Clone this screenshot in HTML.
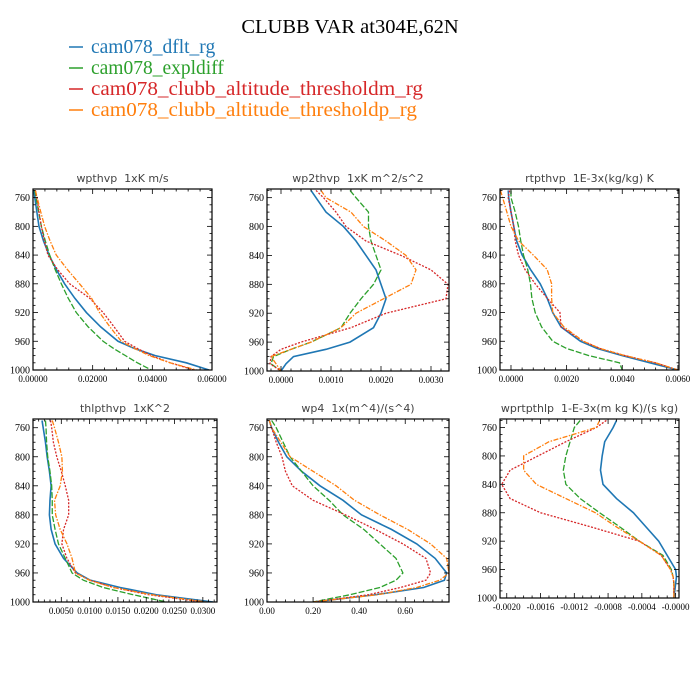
<!DOCTYPE html>
<html><head><meta charset="utf-8"><style>
body{margin:0;background:#fff;}
svg{display:block;}
.pt{font-family:"DejaVu Sans","Liberation Sans",sans-serif;font-size:11px;fill:#444;white-space:pre;}
.tl{font-family:"Liberation Serif",serif;font-size:10px;fill:#000;}
.tx{font-family:"Liberation Serif",serif;font-size:9px;fill:#000;}
.lg{font-family:"Liberation Serif",serif;font-size:19.5px;}
</style></head><body>
<svg id="chart" width="700" height="700" viewBox="0 0 700 700" xmlns="http://www.w3.org/2000/svg">
<rect width="700" height="700" fill="#fff"/>
<text x="350" y="33" text-anchor="middle" font-family="Liberation Serif, serif" font-size="20.5">CLUBB VAR at304E,62N</text>
<g>
<g><line x1="69" y1="47" x2="83" y2="47" stroke="#1f77b4" stroke-width="1.5"/><text class="lg" x="91" y="53" fill="#1f77b4">cam078_dflt_rg</text></g>
<g><line x1="69" y1="68" x2="83" y2="68" stroke="#2ca02c" stroke-width="1.5"/><text class="lg" x="91" y="74" fill="#2ca02c">cam078_expldiff</text></g>
<g><line x1="69" y1="89" x2="83" y2="89" stroke="#d62728" stroke-width="1.5"/><text class="lg" x="91" y="95" fill="#d62728" textLength="332" lengthAdjust="spacingAndGlyphs">cam078_clubb_altitude_thresholdm_rg</text></g>
<g><line x1="69" y1="110" x2="83" y2="110" stroke="#ff7f0e" stroke-width="1.5"/><text class="lg" x="91" y="116" fill="#ff7f0e" textLength="326" lengthAdjust="spacingAndGlyphs">cam078_clubb_altitude_thresholdp_rg</text></g>
</g>
</svg>
<script>
const levels=[750,760,780,800,820,840,860,880,900,920,940,960,970,980,990,1000];
const yTicks=[760,800,840,880,920,960,1000];
const seriesNames=["dflt","expldiff","thresholdm","thresholdp"];
// panel 1 wpthvp
const p1Blue=[0.0003,0.0006,0.0013,0.002,0.0035,0.0054,0.0078,0.0106,0.014,0.0179,0.0227,0.0285,0.034,0.041,0.0514,0.059];
const p1Green=[0.0006,0.001,0.0019,0.0028,0.0041,0.0056,0.0074,0.0095,0.0118,0.0145,0.0185,0.0235,0.027,0.031,0.035,0.0397];
const p1Red=[0.0008,0.0013,0.002,0.0028,0.0038,0.005,0.0082,0.0123,0.019,0.0235,0.0272,0.0307,0.035,0.0397,0.046,0.054];
const p1Orange=[0.0008,0.0014,0.0026,0.0039,0.0057,0.0078,0.0115,0.0156,0.0196,0.0223,0.0258,0.0296,0.034,0.039,0.046,0.0548];
const p1Ticks=[0,0.02,0.04,0.06];
const p1Labels=["0.00000","0.02000","0.04000","0.06000"];
// panel 2 wp2thvp
const p2Blue=[0.0006,0.0007,0.0009,0.00125,0.0015,0.0017,0.0019,0.002,0.0021,0.002,0.00185,0.00138,0.0009,0.00025,0.0001,0];
const p2Green=[0.00138,0.0015,0.00175,0.00175,0.0018,0.0019,0.002,0.00185,0.0016,0.00138,0.0012,0.0006,0.0002,-0.00015,-0.0002,0];
const p2Red=[0.0007,0.00085,0.0011,0.0013,0.0017,0.0024,0.003,0.00334,0.0033,0.0021,0.0014,0.0004,0.0,-0.0002,-0.00022,0];
const p2Orange=[0.0008,0.0009,0.0014,0.00165,0.0021,0.0025,0.0027,0.0026,0.00205,0.0015,0.0012,0.0006,0.0002,-0.0002,-0.0001,0];
const p2Ticks=[0,0.001,0.002,0.003];
const p2Labels=["0.0000","0.0010","0.0020","0.0030"];
// panel 3 rtpthvp
const p3Blue=[-0.0001,-0.00008,0,0.0001,0.0002,0.0004,0.0007,0.00105,0.0013,0.0015,0.0018,0.0025,0.0031,0.004,0.005,0.006];
const p3Green=[0,0,0.00015,0.00027,0.00035,0.00045,0.0006,0.0007,0.00075,0.00087,0.0011,0.0015,0.002,0.0028,0.0039,0.004];
const p3Red=[-0.00005,-0.0001,0,0.0001,0.00015,0.00027,0.0005,0.00087,0.0013,0.00176,0.0018,0.0026,0.0032,0.0041,0.0052,0.006];
const p3Orange=[-0.00038,-0.0003,-0.00015,0,0.00027,0.0008,0.0013,0.00146,0.00146,0.0015,0.0019,0.0026,0.0032,0.0041,0.0052,0.006];
const p3Ticks=[0,0.002,0.004,0.006];
const p3Labels=["0.0000","0.0020","0.0040","0.0060"];
// panel 4 thlpthvp
const p4Blue=[0.0016,0.0018,0.0022,0.0025,0.0029,0.0032,0.003,0.0029,0.0032,0.0039,0.0054,0.0078,0.0101,0.0154,0.0218,0.0318];
const p4Green=[0.0022,0.0023,0.0024,0.0026,0.003,0.0033,0.0034,0.0034,0.0039,0.0045,0.0057,0.0069,0.0089,0.0124,0.0177,0.0236];
const p4Red=[0.0031,0.0033,0.0036,0.0042,0.005,0.0057,0.0063,0.0063,0.0054,0.0051,0.006,0.0075,0.01,0.0142,0.0205,0.03];
const p4Orange=[0.0034,0.0038,0.0045,0.0051,0.0052,0.0048,0.0038,0.004,0.0048,0.006,0.0069,0.0075,0.01,0.0142,0.021,0.0306];
const p4Ticks=[0.005,0.01,0.015,0.02,0.025,0.03];
const p4Labels=["0.0050","0.0100","0.0150","0.0200","0.0250","0.0300"];
// panel 5 wp4
const p5Blue=[0.01,0.02,0.05,0.086,0.15,0.23,0.33,0.41,0.54,0.65,0.73,0.78,0.77,0.68,0.47,0.2];
const p5Green=[0.02,0.04,0.07,0.1,0.15,0.2,0.27,0.33,0.42,0.49,0.56,0.59,0.56,0.49,0.36,0.2];
const p5Red=[0.01,0.02,0.04,0.065,0.08,0.11,0.2,0.34,0.47,0.59,0.69,0.71,0.69,0.58,0.44,0.2];
const p5Orange=[0.01,0.02,0.06,0.1,0.2,0.3,0.38,0.49,0.61,0.71,0.78,0.79,0.75,0.65,0.48,0.2];
const p5Ticks=[0,0.2,0.4,0.6];
const p5Labels=["0.00","0.20","0.40","0.60"];
// panel 6 wprtpthlp
const p6Blue=[-0.0007,-0.00074,-0.00084,-0.00087,-0.00089,-0.00086,-0.0007,-0.0005,-0.00035,-0.0002,-0.0001,0,0.00001,0,-0.00001,-0.00002];
const p6Green=[-0.00113,-0.0012,-0.00125,-0.0013,-0.00133,-0.0013,-0.00113,-0.0009,-0.00066,-0.00043,-0.00015,-0.00005,-0.00003,-0.00002,-0.00002,-0.00002];
const p6Red=[-0.00082,-0.00094,-0.0013,-0.00163,-0.00196,-0.00206,-0.00196,-0.0016,-0.001,-0.00043,-0.00017,-0.00006,-0.00003,-0.00002,-0.00002,-0.00002];
const p6Orange=[-0.0009,-0.00094,-0.0015,-0.0018,-0.0018,-0.00165,-0.0013,-0.00095,-0.0007,-0.00043,-0.00017,-0.00006,-0.00003,-0.00002,-0.00002,-0.00002];
const p6Ticks=[-0.002,-0.0016,-0.0012,-0.0008,-0.0004,0];
const p6Labels=["-0.0020","-0.0016","-0.0012","-0.0008","-0.0004","-0.0000"];

const NS="http://www.w3.org/2000/svg";
const svg=document.getElementById('chart');
function mk(tag,attrs,parent){const e=document.createElementNS(NS,tag);for(const k in attrs)e.setAttribute(k,attrs[k]);parent.appendChild(e);return e;}
const styles=[{c:"#1f77b4",d:"",w:1.6},{c:"#2ca02c",d:"6,2",w:1.3},{c:"#d62728",d:"2,1.5",w:1.3},{c:"#ff7f0e",d:"5,1.5,1.5,1.5",w:1.3}];
function panel(name,title,box,xmin,xmax,series,ticks,labels,minorStep){
  const g=mk('g',{},svg);
  
  
  const [L,T,R,B]=box;
  const ymin=748,ymax=1000;
  const sx=v=>L+(v-xmin)/(xmax-xmin)*(R-L);
  const sy=p=>T+(p-ymin)/(ymax-ymin)*(B-T);
  const t=mk('text',{x:(L+R)/2,y:T-7,'text-anchor':'middle',class:'pt'},g);
  t.textContent=title;
  
  
  const clip=mk('clipPath',{id:'clip-'+name},g);
  mk('rect',{x:L,y:T,width:R-L,height:B-T},clip);
  series.forEach((vals,i)=>{
    const s=styles[i];
    const d=vals.map((v,j)=>(j?'L':'M')+sx(v).toFixed(2)+','+sy(levels[j]).toFixed(2)).join('');
    const p=mk('path',{d:d,fill:'none',stroke:s.c,'stroke-width':s.w,'stroke-dasharray':s.d,'clip-path':'url(#clip-'+name+')'},g);
    
    
  });
  const fr=mk('rect',{x:L,y:T,width:R-L,height:B-T,fill:'none',stroke:'#000','stroke-width':1.2},g);
  
  
  for(let p=750;p<=1000;p+=10){
    const major=yTicks.includes(p);const len=major?5:2.5;
    mk('line',{x1:L,x2:L+len,y1:sy(p),y2:sy(p),stroke:'#000','stroke-width':0.8},g);
    mk('line',{x1:R,x2:R-len,y1:sy(p),y2:sy(p),stroke:'#000','stroke-width':0.8},g);
  }
  yTicks.forEach(p=>{
    const tx=mk('text',{x:L-3,y:sy(p)+3.5,'text-anchor':'end',class:'tl'},g);
    tx.textContent=p;
    
    
  });
  const step=ticks[1]-ticks[0];const ms=step/minorStep;
  for(let v=ticks[0]-step*3;v<=xmax+1e-12;v+=ms){
    if(v<xmin-1e-12)continue;
    const isMaj=ticks.some(tv=>Math.abs(tv-v)<ms/10);
    const len=isMaj?5:2.5;
    mk('line',{x1:sx(v),x2:sx(v),y1:B,y2:B-len,stroke:'#000','stroke-width':0.8},g);
    mk('line',{x1:sx(v),x2:sx(v),y1:T,y2:T+len,stroke:'#000','stroke-width':0.8},g);
  }
  ticks.forEach((v,i)=>{
    const tx=mk('text',{x:sx(v),y:B+12,'text-anchor':'middle',class:'tx'},g);
    tx.textContent=labels[i];
    
    
  });
}
panel('wpthvp','wpthvp  1xK m/s',[33,189,212,370],0,0.06,[p1Blue,p1Green,p1Red,p1Orange],p1Ticks,p1Labels,5);
panel('wp2thvp','wp2thvp  1xK m^2/s^2',[267,189,449,371],-0.00028,0.00336,[p2Blue,p2Green,p2Red,p2Orange],p2Ticks,p2Labels,5);
panel('rtpthvp','rtpthvp  1E-3x(kg/kg) K',[500,189,679,370],-0.000395,0.00604,[p3Blue,p3Green,p3Red,p3Orange],p3Ticks,p3Labels,5);
panel('thlpthvp','thlpthvp  1xK^2',[33,419,217,602],0,0.0325,[p4Blue,p4Green,p4Red,p4Orange],p4Ticks,p4Labels,5);
panel('wp4','wp4  1x(m^4)/(s^4)',[267,419,449,602],0,0.79,[p5Blue,p5Green,p5Red,p5Orange],p5Ticks,p5Labels,5);
panel('wprtpthlp','wprtpthlp  1-E-3x(m kg K)/(s kg)',[500,419,679,598],-0.00208,0.00004,[p6Blue,p6Green,p6Red,p6Orange],p6Ticks,p6Labels,4);
</script>
</body></html>
